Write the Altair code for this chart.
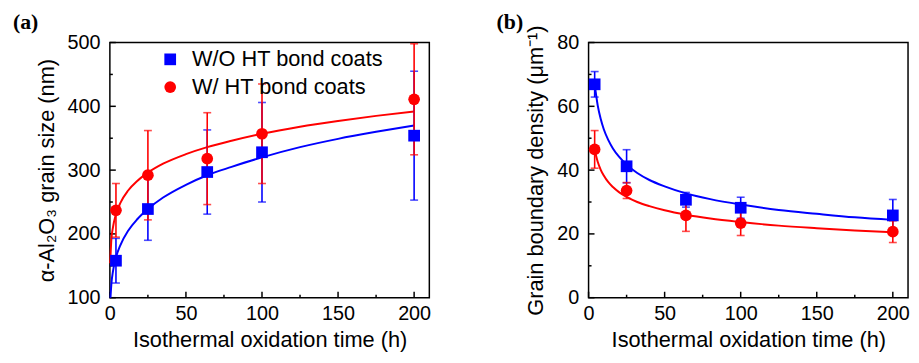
import altair as alt
import pandas as pd

# ---------------- data ----------------
times = [4, 25, 64, 100, 200]
series_names = ["W/O HT bond coats", "W/ HT bond coats"]

# (a) alpha-Al2O3 grain size (nm)
size_wo = [158, 239, 297, 328, 354]
size_wo_err = [35, 49, 66, 78, 101]
size_w = [237, 292, 318, 357, 411]
size_w_err = [42, 70, 72, 78, 87]

# (b) grain boundary density (um^-1)
dens_wo = [66.9, 41.2, 30.7, 28.2, 25.8]
dens_wo_err = [4.0, 5.2, 2.3, 3.3, 5.0]
dens_w = [46.5, 33.6, 25.8, 23.4, 20.7]
dens_w_err = [5.9, 2.5, 5.0, 3.9, 3.4]

# fitted curves
fit_a_t_wo = [0.4, 1, 2, 4, 7, 12, 18, 25, 35, 50, 64, 80, 100, 125, 150, 175, 200]
fit_a_wo = [100, 122, 141, 163, 183, 205, 223, 239, 257, 277, 292, 305, 320, 336, 349, 360, 370]
fit_a_t_w = [0.2, 1, 2, 4, 7, 12, 18, 25, 35, 50, 64, 80, 100, 125, 150, 175, 200]
fit_a_w = [154, 192, 210, 231, 249, 268, 283, 296, 310, 325, 336, 346, 357, 368, 377, 385, 392]

fit_b_t = [4, 6, 8, 10, 13, 16, 20, 25, 32, 40, 50, 64, 80, 100, 125, 150, 175, 200]
fit_b_wo = [66.9, 60.3, 56.0, 52.8, 49.4, 46.8, 44.2, 41.7, 39.1, 36.9, 34.9, 32.7, 30.9, 29.2, 27.5, 26.3, 25.2, 24.4]
fit_b_w = [46.3, 42.6, 40.1, 38.3, 36.2, 34.7, 33.1, 31.6, 30.0, 28.7, 27.4, 26.0, 24.8, 23.7, 22.6, 21.8, 21.1, 20.5]

# axis ticks
x_ticks = [0, 50, 100, 150, 200]
x_minor = [25, 75, 125, 175]
y_ticks_a = [100, 200, 300, 400, 500]
y_minor_a = [150, 250, 350, 450]
y_ticks_b = [0, 20, 40, 60, 80]
y_minor_b = [10, 30, 50, 70]

# ---------------- styling ----------------
W, H = 323, 258
BLUE = "#0000ff"
RED = "#ff0000"
FONT = "Liberation Sans"
XTITLE = "Isothermal oxidation time (h)"


def panel(label, label_dx, ytitle, ydom, yt, ym,
          v_wo, e_wo, v_w, e_w, ft_wo, fv_wo, ft_w, fv_w, legx):
    xs = alt.Scale(domain=[0, 210], nice=False, zero=False)
    ys = alt.Scale(domain=ydom, nice=False, zero=False)
    xax = alt.Axis(title=XTITLE, values=x_ticks, labelFlush=False)
    yax = alt.Axis(title=ytitle, values=yt)

    def X(f):
        return alt.X(f, type="quantitative", scale=xs, axis=xax)

    def Y(f):
        return alt.Y(f, type="quantitative", scale=ys, axis=yax)

    pts = pd.DataFrame({
        "t": times * 2,
        "v": list(v_wo) + list(v_w),
        "lo": [a - b for a, b in zip(v_wo, e_wo)] + [a - b for a, b in zip(v_w, e_w)],
        "hi": [a + b for a, b in zip(v_wo, e_wo)] + [a + b for a, b in zip(v_w, e_w)],
        "series": [series_names[0]] * len(times) + [series_names[1]] * len(times),
    })

    layers = []
    # inward ticks
    for vals, ln in ((x_ticks, 6), (x_minor, 3)):
        layers.append(alt.Chart(pd.DataFrame({"v": vals})).mark_rule(
            color="black", strokeWidth=1.5).encode(
            x=X("v"), y=alt.value(H), y2=alt.value(H - ln)))
    for vals, ln in ((yt, 6), (ym, 3)):
        layers.append(alt.Chart(pd.DataFrame({"v": vals})).mark_rule(
            color="black", strokeWidth=1.5).encode(
            y=Y("v"), x=alt.value(0), x2=alt.value(ln)))

    # fitted curves
    for ft, fv, col in ((ft_wo, fv_wo, BLUE), (ft_w, fv_w, RED)):
        layers.append(alt.Chart(pd.DataFrame({"t": ft, "v": fv})).mark_line(
            color=col, strokeWidth=2, interpolate="monotone").encode(
            x=X("t"), y=Y("v")))

    # error bars
    for name, col in zip(series_names, (BLUE, RED)):
        sub = pts[pts.series == name]
        base = alt.Chart(sub)
        layers.append(base.mark_rule(color=col, strokeWidth=1.6).encode(
            x=X("t"), y=Y("lo"), y2="hi"))
        layers.append(base.mark_tick(color=col, orient="horizontal",
                                     size=8, thickness=1.6).encode(x=X("t"), y=Y("lo")))
        layers.append(base.mark_tick(color=col, orient="horizontal",
                                     size=8, thickness=1.6).encode(x=X("t"), y=Y("hi")))

    # markers with legend
    legend = alt.Legend(title=None, orient="none", legendX=legx, legendY=6,
                        labelFont=FONT, labelFontSize=22, labelColor="black",
                        labelLimit=0,
                        symbolSize=140, symbolStrokeWidth=0, labelOffset=11,
                        rowPadding=6, padding=0)
    layers.append(alt.Chart(pts).mark_point(filled=True, opacity=1, size=140).encode(
        x=X("t"), y=Y("v"),
        color=alt.Color("series:N", scale=alt.Scale(domain=series_names, range=[BLUE, RED]),
                        legend=legend),
        shape=alt.Shape("series:N", scale=alt.Scale(domain=series_names, range=["square", "circle"]),
                        legend=legend),
    ))

    # panel letter
    layers.append(alt.Chart(pd.DataFrame({"lab": [label]})).mark_text(
        font="Liberation Serif", fontSize=22, fontWeight="bold", color="black",
        align="left", baseline="top").encode(
        text="lab:N", x=alt.value(label_dx), y=alt.value(-31)))

    return alt.layer(*layers).properties(width=W, height=H)


left = panel("(a)", -98, "α-Al₂O₃ grain size (nm)", [100, 500], y_ticks_a, y_minor_a,
             size_wo, size_wo_err, size_w, size_w_err,
             fit_a_t_wo, fit_a_wo, fit_a_t_w, fit_a_w, 50)
right = panel("(b)", -93, "Grain boundary density (μm⁻¹)", [0, 80], y_ticks_b, y_minor_b,
              dens_wo, dens_wo_err, dens_w, dens_w_err,
              fit_b_t, fit_b_wo, fit_b_t, fit_b_w, 54)

chart = alt.hconcat(left, right, spacing=64).properties(
    padding={"left": 4, "top": 0, "right": 0, "bottom": 0}
).configure_view(
    stroke="black", strokeWidth=1.5
).configure_axis(
    grid=False, domain=False, ticks=False,
    labelFont=FONT, labelFontSize=20, labelColor="black",
    titleFont=FONT, titleFontSize=22, titleFontWeight="normal", titleColor="black",
).configure_axisX(
    labelPadding=6, titlePadding=6
).configure_axisY(
    labelPadding=10, titlePadding=9
)

chart.save("out.html", embed_options={"renderer": "svg", "actions": False})
